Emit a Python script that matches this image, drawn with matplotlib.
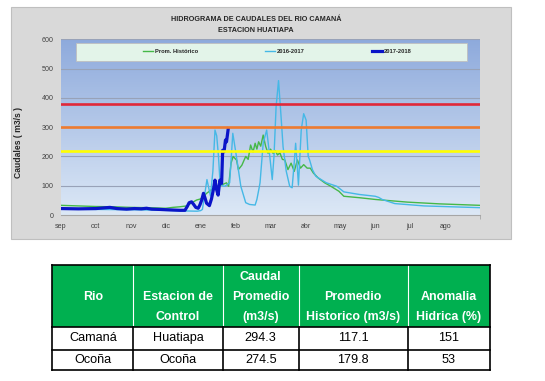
import numpy as np
import matplotlib
matplotlib.use("Agg")
import matplotlib.pyplot as plt
from matplotlib.patches import Rectangle
from matplotlib.colors import LinearSegmentedColormap

plt.rcParams['font.family'] = ['Liberation Sans', 'DejaVu Sans']

# --- data (x = months since 1 sep) ---
meses = ['sep', 'oct', 'nov', 'dic', 'ene', 'feb', 'mar', 'abr', 'may', 'jun', 'jul', 'ago']

hist_mes = [0, 0.5, 1.0, 1.5, 2.0, 2.5, 3.0, 3.2, 3.4, 3.6, 3.75, 3.88, 4.0, 4.17, 4.36, 4.55,
            4.74, 4.8, 4.87, 4.93, 5.03, 5.08, 5.18, 5.29, 5.36, 5.43, 5.5, 5.56, 5.61, 5.66,
            5.72, 5.79, 5.86, 5.93, 6.0, 6.08, 6.14, 6.2, 6.27, 6.34, 6.41, 6.5, 6.59, 6.68,
            6.77, 6.86, 6.95, 7.05, 7.14, 7.23, 7.37, 7.55, 7.73, 7.96, 8.1, 8.55, 9.01, 9.92,
            10.84, 12.0]
hist_q = [33, 31, 29, 28, 26, 25, 23, 26, 28, 31, 42, 51, 55, 74, 91, 100,
          110, 98, 177, 200, 187, 155, 170, 200, 190, 239, 215, 245, 225, 250,
          235, 273, 235, 211, 225, 210, 220, 205, 212, 190, 188, 155, 177, 149,
          188, 160, 172, 160, 160, 143, 126, 110, 98, 81, 64, 59, 53, 44,
          38, 33]

q1617_mes = [0, 1, 2, 3, 3.5, 3.9, 4.0, 4.05, 4.18, 4.28, 4.35, 4.41, 4.46, 4.51, 4.55, 4.62,
             4.69, 4.83, 4.92, 5.01, 5.15, 5.29, 5.4, 5.56, 5.61, 5.67, 5.7, 5.79, 5.89, 5.98,
             6.05, 6.1, 6.16, 6.23, 6.3, 6.36, 6.45, 6.55, 6.62, 6.68, 6.72, 6.76, 6.8, 6.88,
             6.95, 7.02, 7.08, 7.12, 7.2, 7.3, 7.45, 7.6, 7.9, 8.1, 8.55, 9.0, 9.1, 9.2,
             9.56, 10.4, 12.0]
q1617_q = [20, 19, 18, 16, 14, 13, 15, 19, 121, 65, 150, 290, 270, 200, 121, 100,
           98, 110, 279, 211, 98, 42, 36, 34, 53, 90, 110, 245, 290, 200,
           121, 200, 369, 459, 340, 233, 150, 98, 93, 180, 245, 177, 102, 290,
           346, 324, 200, 188, 155, 132, 121, 110, 98, 79, 70, 64, 60, 53,
           39, 31, 25]

q1718_mes = [0, 0.5, 1.0, 1.2, 1.4, 1.6, 1.88, 2.1, 2.3, 2.45, 2.6, 2.83, 3.0, 3.2, 3.41, 3.55,
             3.62, 3.67, 3.74, 3.8, 3.86, 3.93, 3.98, 4.03, 4.08, 4.12, 4.17, 4.25, 4.31, 4.37,
             4.41, 4.46, 4.5, 4.55, 4.6, 4.63, 4.67, 4.71, 4.74, 4.79]
q1718_q = [22, 21, 22, 24, 26, 22, 20, 22, 21, 23, 20, 19, 18, 17, 16, 16,
           30, 42, 45, 36, 26, 23, 35, 51, 74, 60, 40, 32, 55, 90,
           119, 85, 68, 119, 108, 221, 216, 256, 250, 295]

umbrales = [380, 300, 220]
umbral_colores = ['#E0283A', '#EE7B30', '#FFFF00']

# table
tabla_cols = [['Rio'], ['Estacion de', 'Control'], ['Caudal', 'Promedio', '(m3/s)'],
              ['Promedio', 'Historico (m3/s)'], ['Anomalia', 'Hidrica (%)']]
tabla_filas = [['Camaná', 'Huatiapa', '294.3', '117.1', '151'],
               ['Ocoña', 'Ocoña', '274.5', '179.8', '53']]

W, H = 545, 381
fig = plt.figure(figsize=(W / 100, H / 100), dpi=100)

# pixel-space helper axes for panel / table
bg = fig.add_axes([0, 0, 1, 1])
bg.set_xlim(0, W)
bg.set_ylim(H, 0)
bg.axis('off')
bg.add_patch(Rectangle((11, 7), 500, 232, facecolor='#D9D9D9', edgecolor='#BFBFBF', lw=0.8))

bg.text(256, 19.5, 'HIDROGRAMA DE CAUDALES DEL RIO CAMANÁ', ha='center', va='center',
        fontsize=5.2, fontweight='bold', color='#262626')
bg.text(256, 31, 'ESTACION HUATIAPA', ha='center', va='center',
        fontsize=5.2, fontweight='bold', color='#262626')

# chart axes
left, right, top, bottom = 61, 480, 39.3, 215
ax = fig.add_axes([left / W, 1 - bottom / H, (right - left) / W, (bottom - top) / H])
ax.set_facecolor('none')
grad = np.linspace(0, 1, 256).reshape(-1, 1)
cmap = LinearSegmentedColormap.from_list('bgblue', ['#DCE8F6', '#8EAADC'])
ax.imshow(grad, extent=[0, 12, 0, 600], origin='lower', aspect='auto', cmap=cmap, zorder=0)
ax.set_xlim(0, 12)
ax.set_ylim(0, 600)
for v in range(100, 601, 100):
    ax.axhline(v, color='#98A2B8', lw=0.8, zorder=1)

ax.plot(hist_mes, hist_q, color='#45B848', lw=1.0, zorder=3, label='Prom. Histórico')
ax.plot(q1617_mes, q1617_q, color='#45B8E6', lw=1.0, zorder=3, label='2016-2017')
ax.plot(q1718_mes, q1718_q, color='#0A14C8', lw=2.3, zorder=4, label='2017-2018')
for u, c in zip(umbrales, umbral_colores):
    ax.axhline(u, color=c, lw=1.9, zorder=5)

for s in ['top', 'right', 'left']:
    ax.spines[s].set_visible(False)
ax.spines['bottom'].set_color('#A6A6A6')
ax.spines['bottom'].set_linewidth(0.8)
ax.set_xticks(range(12))
ax.set_xticklabels(meses)
ax.set_xticks(range(13), minor=True)
ax.tick_params(axis='x', which='major', length=0, pad=6, labelsize=5.1, labelcolor='#404040')
ax.tick_params(axis='x', which='minor', length=3, color='#A6A6A6')
ax.set_yticks(range(0, 601, 100))
ax.tick_params(axis='y', length=0, pad=5.5, labelsize=5.1, labelcolor='#404040')
ax.set_ylabel('Caudales ( m3/s )', fontsize=6.2, fontweight='bold', color='#262626')
ax.yaxis.set_label_coords(-(left - 23) / (right - left), (bottom - 143) / (bottom - top))

# legend box
ax.add_patch(Rectangle((75.7, 42.7), 391, 18, transform=bg.transData, facecolor='#E3F4E9',
                       edgecolor='#BFBFBF', lw=0.6, zorder=6, clip_on=False))
leg = ax.legend(loc='center', bbox_to_anchor=(277.5 / W, 1 - 51.7 / H), bbox_transform=fig.transFigure,
                ncol=3, frameon=False, fontsize=4.15, handlelength=1.74, handletextpad=0.3,
                columnspacing=11.7)
leg.set_zorder(7)
for t in leg.get_texts():
    t.set_fontweight('bold')
    t.set_color('#262626')

# table
xs = [52.3, 133.3, 222.7, 298.7, 407.7, 490]
ys = [265, 326.7, 350, 370]
bg.add_patch(Rectangle((xs[0], ys[0]), xs[-1] - xs[0], ys[1] - ys[0], facecolor='#00B050',
                       edgecolor='none'))
for x in xs[1:-1]:
    bg.plot([x, x], [ys[0], ys[1]], color='white', lw=0.8)
for x in xs:
    bg.plot([x, x], [ys[1], ys[3]], color='black', lw=1.2)
bg.plot([xs[0], xs[0]], [ys[0], ys[1]], color='black', lw=1.2)
bg.plot([xs[-1], xs[-1]], [ys[0], ys[1]], color='black', lw=1.2)
for y in ys:
    bg.plot([xs[0], xs[-1]], [y, y], color='black', lw=1.2)

line_y = {1: [297.3], 2: [297.3, 317.3], 3: [276.7, 297.3, 317.3]}
for i, lines in enumerate(tabla_cols):
    cx = (xs[i] + xs[i + 1]) / 2
    for txt, yy in zip(lines, line_y[len(lines)]):
        bg.text(cx, yy, txt, ha='center', va='center', fontsize=8.9, fontweight='bold', color='white')
for r, fila in enumerate(tabla_filas):
    cy = (ys[r + 1] + ys[r + 2]) / 2
    for i, txt in enumerate(fila):
        cx = (xs[i] + xs[i + 1]) / 2
        bg.text(cx, cy, txt, ha='center', va='center', fontsize=9.1, color='black')

fig.savefig('out.png', dpi=100)
